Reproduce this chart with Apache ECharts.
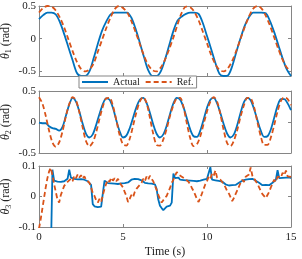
<!DOCTYPE html>
<html><head><meta charset="utf-8">
<script src="https://cdn.jsdelivr.net/npm/echarts@6/dist/echarts.min.js"></script>
<style>html,body{margin:0;padding:0;background:#fff}#c{width:302px;height:259px}</style>
</head><body><div id="c"></div>
<script>
// ---------- data ----------
const time1 = [0,0.25,0.5,0.75,1,1.25,1.5,1.75,2,2.25,2.5,2.75,3,3.25,3.5,3.75,4,4.25,4.5,4.75,5,5.25,5.5,5.75,6,6.25,6.5,6.75,7,7.25,7.5,7.75,8,8.25,8.5,8.75,9,9.25,9.5,9.75,10,10.25,10.5,10.75,11,11.25,11.5,11.75,12,12.25,12.5,12.75,13,13.25,13.5,13.75,14,14.25,14.5,14.75,15];
const theta1Actual = [0.30,0.36,0.40,0.40,0.37,0.25,0.07,-0.13,-0.33,-0.52,-0.57,-0.57,-0.50,-0.30,-0.08,0.12,0.26,0.37,0.40,0.40,0.40,0.40,0.32,0.15,-0.06,-0.28,-0.48,-0.57,-0.57,-0.50,-0.32,-0.10,0.12,0.28,0.34,0.38,0.40,0.40,0.38,0.24,0.04,-0.16,-0.37,-0.54,-0.57,-0.56,-0.42,-0.20,0.01,0.20,0.33,0.40,0.40,0.40,0.39,0.27,0.10,-0.10,-0.30,-0.47,-0.57];
const theta1Ref = [0.40,0.47,0.50,0.49,0.43,0.32,0.17,-0.01,-0.19,-0.35,-0.46,-0.50,-0.47,-0.38,-0.20,-0.02,0.16,0.32,0.45,0.50,0.47,0.40,0.27,0.10,-0.08,-0.26,-0.40,-0.48,-0.50,-0.44,-0.32,-0.16,0.02,0.22,0.40,0.49,0.48,0.41,0.28,0.11,-0.07,-0.25,-0.39,-0.48,-0.50,-0.45,-0.34,-0.18,0.00,0.18,0.34,0.46,0.50,0.46,0.35,0.20,0.02,-0.16,-0.32,-0.44,-0.49];

const time2 = [0,0.2,0.4,0.6,0.8,1,1.2,1.4,1.6,1.8,2,2.2,2.4,2.6,2.8,3,3.2,3.4,3.6,3.8,4,4.2,4.4,4.6,4.8,5,5.2,5.4,5.6,5.8,6,6.2,6.4,6.6,6.8,7,7.2,7.4,7.6,7.8,8,8.2,8.4,8.6,8.8,9,9.2,9.4,9.6,9.8,10,10.2,10.4,10.6,10.8,11,11.2,11.4,11.6,11.8,12,12.2,12.4,12.6,12.8,13,13.2,13.4,13.6,13.8,14,14.2,14.4,14.6,14.8,15];
const theta2Actual = [-0.01,-0.02,-0.02,-0.07,-0.10,-0.11,-0.14,-0.08,0.10,0.28,0.39,0.33,0.17,-0.03,-0.19,-0.25,-0.20,-0.05,0.13,0.29,0.38,0.36,0.23,0.03,-0.15,-0.25,-0.22,-0.10,0.07,0.24,0.36,0.39,0.31,0.15,-0.04,-0.19,-0.25,-0.20,-0.06,0.13,0.30,0.39,0.36,0.24,0.06,-0.12,-0.23,-0.24,-0.14,0.04,0.23,0.36,0.39,0.30,0.14,-0.04,-0.19,-0.25,-0.20,-0.05,0.15,0.32,0.39,0.35,0.21,0.03,-0.14,-0.24,-0.23,-0.12,0.07,0.26,0.37,0.37,0.30,0.19];
const theta2Ref = [0.40,0.30,0.10,-0.14,-0.33,-0.40,-0.33,-0.15,0.09,0.29,0.40,0.35,0.16,-0.09,-0.31,-0.39,-0.33,-0.17,0.05,0.25,0.38,0.39,0.26,0.03,-0.21,-0.36,-0.38,-0.27,-0.06,0.16,0.33,0.40,0.31,0.07,-0.19,-0.37,-0.38,-0.28,-0.11,0.10,0.27,0.38,0.39,0.24,-0.02,-0.26,-0.39,-0.36,-0.23,-0.03,0.17,0.33,0.40,0.33,0.12,-0.14,-0.34,-0.39,-0.30,-0.13,0.09,0.27,0.39,0.38,0.24,0.00,-0.23,-0.37,-0.37,-0.25,-0.05,0.17,0.34,0.40,0.37,0.27];

const time3 = [0,0.1,0.2,0.3,0.4,0.5,0.6,0.7,0.8,0.9,
1,1.1,1.2,1.3,1.4,1.5,1.6,1.7,1.8,1.9,
2,2.1,2.2,2.3,2.4,2.5,2.6,2.7,2.8,2.9,
3,3.1,3.2,3.3,3.4,3.5,3.6,3.7,3.8,3.9,
4,4.1,4.2,4.3,4.4,4.5,4.6,4.7,4.8,4.9,
5,5.1,5.2,5.3,5.4,5.5,5.6,5.7,5.8,5.9,
6,6.1,6.2,6.3,6.4,6.5,6.6,6.7,6.8,6.9,
7,7.1,7.2,7.3,7.4,7.5,7.6,7.7,7.8,7.9,
8,8.1,8.2,8.3,8.4,8.5,8.6,8.7,8.8,8.9,
9,9.1,9.2,9.3,9.4,9.5,9.6,9.7,9.8,9.9,
10,10.1,10.2,10.3,10.4,10.5,10.6,10.7,10.8,10.9,
11,11.1,11.2,11.3,11.4,11.5,11.6,11.7,11.8,11.9,
12,12.1,12.2,12.3,12.4,12.5,12.6,12.7,12.8,12.9,
13,13.1,13.2,13.3,13.4,13.5,13.6,13.7,13.8,13.9,
14,14.1,14.2,14.3,14.4,14.5,14.6,14.7,14.8,14.9,
15];
const theta3Actual = [-0.5,-0.5,-0.5,-0.5,-0.5,-0.5,-0.5,-0.5,0.088,0.052,
0.046,0.049,0.043,0.048,0.045,0.050,0.047,0.058,0.088,0.062,
0.066,0.058,0.063,0.056,0.061,0.057,0.060,0.055,0.058,0.050,
0.045,0.038,-0.025,-0.032,-0.030,-0.035,-0.029,-0.033,0.010,0.052,
0.048,0.044,0.049,0.043,0.047,0.042,0.046,0.041,0.047,0.043,
0.048,0.044,0.050,0.046,0.052,0.055,0.061,0.058,0.064,0.057,
0.060,0.053,0.049,0.045,0.047,0.043,0.046,0.042,0.045,0.040,
0.025,-0.010,-0.030,-0.038,-0.045,-0.040,-0.033,-0.036,-0.030,-0.020,
0.075,0.060,0.057,0.062,0.055,0.059,0.054,0.058,0.053,0.057,
0.052,0.056,0.051,0.055,0.050,0.054,0.052,0.057,0.055,0.060,
0.058,0.063,0.096,0.055,0.050,0.053,0.047,0.051,0.045,0.049,
0.043,0.040,0.037,0.036,0.033,0.037,0.034,0.038,0.041,0.045,
0.048,0.052,0.049,0.055,0.052,0.057,0.053,0.058,0.054,0.052,
0.049,0.045,0.041,0.037,0.034,0.038,0.033,0.037,0.040,0.045,
0.050,0.055,0.086,0.060,0.056,0.061,0.057,0.062,0.058,0.063,
0.060];
const theta3Ref = [-0.105,-0.075,-0.040,-0.005,0.030,0.060,0.082,0.094,0.070,0.040,
0.015,-0.010,-0.020,0.005,0.020,0.035,0.030,0.048,0.042,0.058,
0.050,0.068,0.060,0.072,0.062,0.070,0.058,0.066,0.055,0.060,
0.045,0.030,0.012,0.002,-0.012,-0.020,-0.008,-0.018,0.005,0.025,
0.042,0.055,0.048,0.062,0.052,0.060,0.050,0.058,0.045,0.040,
0.030,0.015,0.002,-0.018,-0.008,0.005,-0.002,0.015,0.025,0.020,
0.038,0.045,0.058,0.050,0.065,0.055,0.068,0.058,0.050,0.035,
0.022,0.005,-0.008,-0.020,-0.012,-0.015,0.002,0.015,0.028,0.045,
0.055,0.068,0.080,0.072,0.078,0.065,0.070,0.058,0.062,0.048,
0.040,0.028,0.018,0.005,-0.008,-0.018,-0.005,0.010,0.025,0.040,
0.050,0.065,0.058,0.075,0.068,0.085,0.062,0.068,0.055,0.050,
0.040,0.030,0.018,0.010,-0.002,-0.015,-0.005,0.008,0.020,0.032,
0.045,0.055,0.048,0.065,0.060,0.072,0.095,0.068,0.062,0.050,
0.042,0.030,0.018,0.008,0.002,-0.005,0.005,0.015,0.030,0.042,
0.055,0.048,0.065,0.070,0.062,0.078,0.070,0.085,0.066,0.072,
0.064];

const xTicks = [0, 5, 10, 15];
const y1Ticks = [-0.5, 0, 0.5];
const y2Ticks = [-0.5, 0, 0.5];
const y3Ticks = [-0.1, 0, 0.1];
const legendNames = ['Actual', 'Ref.'];
const yNames = ['1', '2', '3'];

// ---------- style ----------
const FONT = 'Liberation Serif';
const AX = '#858585';
const TXT = '#222';
const BLUE = '#0072BD';
const ORANGE = '#D95319';
const yRanges = [[-0.57, 0.5], [-0.5, 0.5], [-0.1, 0.1]];
const yTickSets = [y1Ticks, y2Ticks, y3Ticks];

const grids = [
  {left: 39, right: 11, top: 6, height: 70},
  {left: 39, right: 11, top: 91, height: 62},
  {left: 39, right: 11, top: 166, height: 61}
].map(g => Object.assign(g, {containLabel: false, outerBoundsMode: 'none'}));

function pairs(t, v) { return t.map((x, i) => [x, v[i]]); }

const xAxes = [], yAxes = [];
for (const pos of ['bottom', 'top']) {
  for (let g = 0; g < 3; g++) {
    const lab = (pos === 'bottom' && g === 2);
    xAxes.push({
      type: 'value', gridIndex: g, position: pos, min: 0, max: 15,
      axisLine: {show: true, onZero: false, lineStyle: {color: AX, width: 1}},
      axisTick: {show: true, inside: true, length: 3, customValues: xTicks, lineStyle: {color: AX}},
      axisLabel: {show: lab, customValues: xTicks, color: TXT, fontFamily: FONT, fontSize: 11, margin: 5},
      splitLine: {show: false},
      name: lab ? 'Time (s)' : '', nameLocation: 'middle', nameGap: 19,
      nameTextStyle: {color: TXT, fontFamily: FONT, fontSize: 12}
    });
  }
}
for (const pos of ['left', 'right']) {
  for (let g = 0; g < 3; g++) {
    const lab = pos === 'left';
    yAxes.push({
      type: 'value', gridIndex: g, position: pos, min: yRanges[g][0], max: yRanges[g][1],
      axisLine: {show: true, onZero: false, lineStyle: {color: AX, width: 1}},
      axisTick: {show: true, inside: true, length: 3, customValues: yTickSets[g], lineStyle: {color: AX}},
      axisLabel: {show: lab, customValues: yTickSets[g], color: TXT, fontFamily: FONT, fontSize: 11, margin: 3,
        formatter: v => String(Math.round(v * 100) / 100)},
      splitLine: {show: false},
      name: lab ? '{i|θ}{s|' + yNames[g] + '} {r|(rad)}' : '',
      nameLocation: 'middle', nameGap: 26, nameRotate: 90, nameMoveOverlap: false,
      nameTextStyle: {
        color: TXT, fontFamily: FONT, fontSize: 12,
        rich: {
          i: {fontStyle: 'italic', fontFamily: FONT, fontSize: 12, color: TXT, lineHeight: 14},
          s: {fontFamily: FONT, fontSize: 8, color: TXT, verticalAlign: 'bottom', lineHeight: 8},
          r: {fontFamily: FONT, fontSize: 12, color: TXT, lineHeight: 14}
        }
      }
    });
  }
}

function lineSeries(name, g, t, v, color, dashed, smooth) {
  return {
    type: 'line', name, xAxisIndex: g, yAxisIndex: g, data: pairs(t, v),
    symbol: 'none', showSymbol: false, smooth: smooth, clip: true,
    lineStyle: {color, width: 1.8, type: dashed ? [5, 3] : 'solid'},
    itemStyle: {color}, emphasis: {disabled: true}
  };
}

const series = [
  lineSeries(legendNames[0], 0, time1, theta1Actual, BLUE, false, 0.3),
  lineSeries(legendNames[1], 0, time1, theta1Ref, ORANGE, true, 0.3),
  lineSeries(legendNames[0], 1, time2, theta2Actual, BLUE, false, 0.3),
  lineSeries(legendNames[1], 1, time2, theta2Ref, ORANGE, true, 0.3),
  lineSeries(legendNames[0], 2, time3, theta3Actual, BLUE, false, false),
  lineSeries(legendNames[1], 2, time3, theta3Ref, ORANGE, true, false)
];

const chart = echarts.init(document.getElementById('c'), null, {renderer: 'canvas'});
chart.setOption({
  animation: false,
  backgroundColor: '#fff',
  grid: grids,
  xAxis: xAxes,
  yAxis: yAxes,
  legend: {
    data: legendNames, left: 79, top: 76, orient: 'horizontal',
    itemWidth: 26, itemHeight: 10, itemGap: 5, padding: [1, 3, 1, 2],
    backgroundColor: '#fff', borderColor: AX, borderWidth: 1, borderRadius: 0,
    selectedMode: false,
    itemStyle: {color: 'rgba(0,0,0,0)', borderColor: 'rgba(0,0,0,0)', borderWidth: 0, opacity: 0},
    textStyle: {fontFamily: FONT, fontSize: 10, color: TXT}
  },
  series
});
</script></body></html>
